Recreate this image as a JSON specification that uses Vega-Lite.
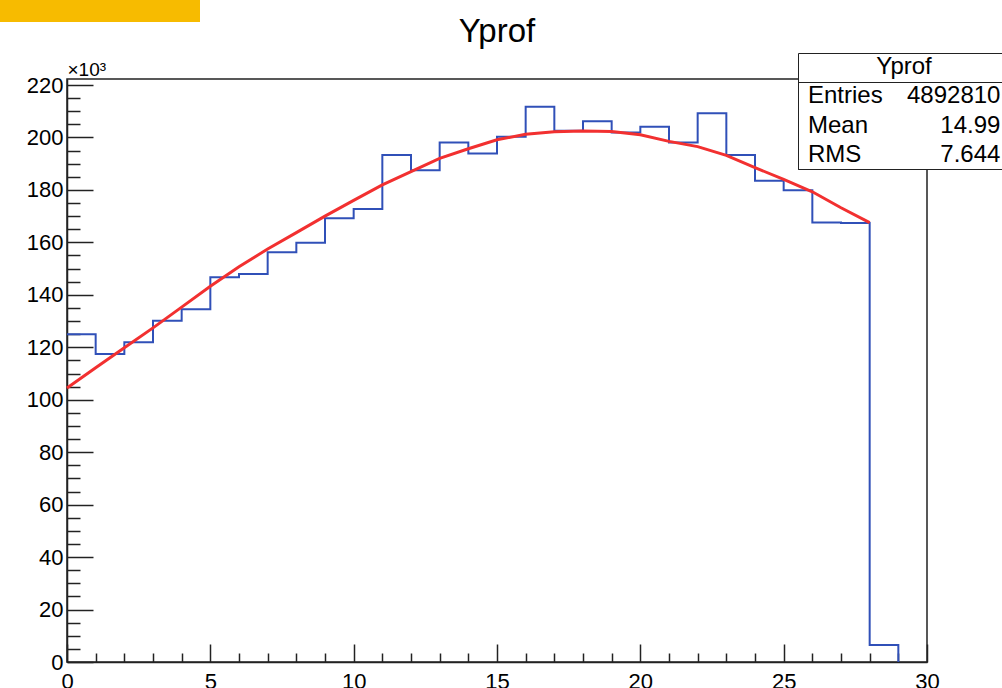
{
  "$schema": "https://vega.github.io/schema/vega-lite/v6.json",
  "width": 860,
  "height": 583,
  "autosize": {"type": "none"},
  "padding": {"left": 67, "top": 79, "right": 75, "bottom": 26},
  "background": "white",
  "config": {
    "view": {"stroke": "#222", "strokeWidth": 1.5},
    "font": "Liberation Sans"
  },
  "title": {
    "text": "Yprof",
    "fontSize": 33,
    "font": "Liberation Sans",
    "fontWeight": "normal",
    "color": "#000",
    "anchor": "middle",
    "baseline": "alphabetic",
    "offset": -75
  },
  "datasets": {
    "hist": [
      {"x": 0, "count": 125000}, {"x": 1, "count": 117400}, {"x": 2, "count": 121900},
      {"x": 3, "count": 130100}, {"x": 4, "count": 134500}, {"x": 5, "count": 146700},
      {"x": 6, "count": 147900}, {"x": 7, "count": 156200}, {"x": 8, "count": 159900},
      {"x": 9, "count": 169200}, {"x": 10, "count": 172700}, {"x": 11, "count": 193300},
      {"x": 12, "count": 187500}, {"x": 13, "count": 198100}, {"x": 14, "count": 193900},
      {"x": 15, "count": 200300}, {"x": 16, "count": 211700}, {"x": 17, "count": 202600},
      {"x": 18, "count": 206200}, {"x": 19, "count": 201900}, {"x": 20, "count": 204100},
      {"x": 21, "count": 198100}, {"x": 22, "count": 209200}, {"x": 23, "count": 193300},
      {"x": 24, "count": 183500}, {"x": 25, "count": 179900}, {"x": 26, "count": 167600},
      {"x": 27, "count": 167400}, {"x": 28, "count": 6500}, {"x": 29, "count": 0}
    ],
    "fit": [
      {"x": 0, "count": 104500}, {"x": 1, "count": 112200}, {"x": 2, "count": 119800},
      {"x": 3, "count": 127400}, {"x": 4, "count": 135300}, {"x": 5, "count": 143300},
      {"x": 6, "count": 150700}, {"x": 7, "count": 157500}, {"x": 8, "count": 163700},
      {"x": 9, "count": 170000}, {"x": 10, "count": 176000}, {"x": 11, "count": 181900},
      {"x": 12, "count": 187000}, {"x": 13, "count": 192000}, {"x": 14, "count": 195700},
      {"x": 15, "count": 199100}, {"x": 16, "count": 201200}, {"x": 17, "count": 202200},
      {"x": 18, "count": 202500}, {"x": 19, "count": 202300}, {"x": 20, "count": 201000},
      {"x": 21, "count": 198500}, {"x": 22, "count": 196500}, {"x": 23, "count": 193200},
      {"x": 24, "count": 188500}, {"x": 25, "count": 184000}, {"x": 26, "count": 179300},
      {"x": 27, "count": 173200}, {"x": 28, "count": 167500}
    ],
    "stats": [
      {"stat": "Entries", "value": 4892810},
      {"stat": "Mean", "value": 14.99},
      {"stat": "RMS", "value": 7.644}
    ]
  },
  "layer": [
    {
      "data": {"name": "hist"},
      "mark": {"type": "line", "interpolate": "step-after", "color": "#3050b8", "strokeWidth": 2},
      "encoding": {
        "x": {
          "field": "x", "type": "quantitative",
          "scale": {"domain": [0, 30], "nice": false, "zero": false},
          "axis": {
            "title": null,
            "grid": false,
            "tickCount": 30,
            "labelExpr": "datum.value % 5 === 0 ? datum.label : ''",
            "labelFont": "Liberation Sans",
            "labelFontSize": 22,
            "labelColor": "#000",
            "labelFlush": false,
            "labelOverlap": false,
            "labelPadding": 27,
            "tickSize": -18,
            "tickWidth": 1.5,
            "tickColor": "#222",
            "tickDash": {"condition": {"test": "datum.value % 5 !== 0", "value": [9, 60]}, "value": [60, 0]},
            "domainColor": "#222",
            "domainWidth": 1.5
          }
        },
        "y": {
          "field": "count", "type": "quantitative",
          "scale": {"domain": [0, 222290], "nice": false, "zero": false},
          "axis": {
            "title": "×10³",
            "titleAngle": 0,
            "titleAlign": "left",
            "titleBaseline": "alphabetic",
            "titleX": 0,
            "titleY": -4,
            "titleFont": "Liberation Sans",
            "titleFontSize": 19,
            "titleFontWeight": "normal",
            "titleColor": "#000",
            "grid": false,
            "tickCount": 44,
            "labelExpr": "datum.value % 20000 === 0 ? format(datum.value / 1000, 'd') : ''",
            "labelFont": "Liberation Sans",
            "labelFontSize": 22,
            "labelColor": "#000",
            "labelFlush": false,
            "labelOverlap": false,
            "labelPadding": 30,
            "tickSize": -26,
            "tickWidth": 1.5,
            "tickColor": "#222",
            "tickDash": {"condition": {"test": "datum.value % 20000 !== 0", "value": [13, 60]}, "value": [60, 0]},
            "domainColor": "#222",
            "domainWidth": 1.5
          }
        }
      }
    },
    {
      "data": {"name": "fit"},
      "mark": {"type": "line", "color": "#f23030", "strokeWidth": 3},
      "encoding": {
        "x": {"field": "x", "type": "quantitative"},
        "y": {"field": "count", "type": "quantitative"}
      }
    },
    {
      "data": {"name": "stats"},
      "mark": {"type": "point", "opacity": 0},
      "encoding": {
        "color": {
          "field": "stat", "type": "nominal",
          "legend": {
            "orient": "none", "legendX": 731, "legendY": -26,
            "title": "Yprof",
            "titleFont": "Liberation Sans", "titleFontSize": 24, "titleFontWeight": "normal",
            "titleColor": "#000", "titleAnchor": "middle", "titleAlign": "center",
            "titleBaseline": "top", "titlePadding": 5,
            "labelFont": "Liberation Sans", "labelFontSize": 24, "labelColor": "#000",
            "labelLimit": 600, "labelOffset": -16,
            "labelExpr": "pad(datum.label, 25, '\u00a0') + '\u200b'",
            "symbolOpacity": 0, "symbolSize": 1, "symbolStrokeWidth": 0,
            "padding": 2, "rowPadding": 5.5,
            "strokeColor": "#222", "fillColor": "white"
          }
        },
        "fill": {
          "field": "value", "type": "quantitative",
          "scale": {"range": ["#f7bb00", "#f7bb00"]},
          "legend": {
            "orient": "none", "legendX": -67, "legendY": -79,
            "direction": "horizontal", "gradientLength": 200, "gradientThickness": 22,
            "gradientStrokeWidth": 0, "title": null, "labelOpacity": 0, "padding": 0
          }
        },
        "shape": {
          "field": "value", "type": "nominal",
          "sort": {"field": "stat", "op": "min"},
          "legend": {
            "orient": "none", "legendX": 731, "legendY": 3,
            "title": null,
            "labelFont": "Liberation Sans", "labelFontSize": 24, "labelColor": "#000",
            "labelLimit": 600, "labelOffset": 83,
            "labelExpr": "'\u200b' + pad(datum.label, length(datum.label) < 7 ? 10 : 7, '\u00a0', 'left')",
            "symbolOpacity": 0, "symbolSize": 1, "symbolStrokeWidth": 0,
            "padding": 2, "rowPadding": 5.5,
            "strokeColor": "#222"
          }
        }
      }
    }
  ]
}
